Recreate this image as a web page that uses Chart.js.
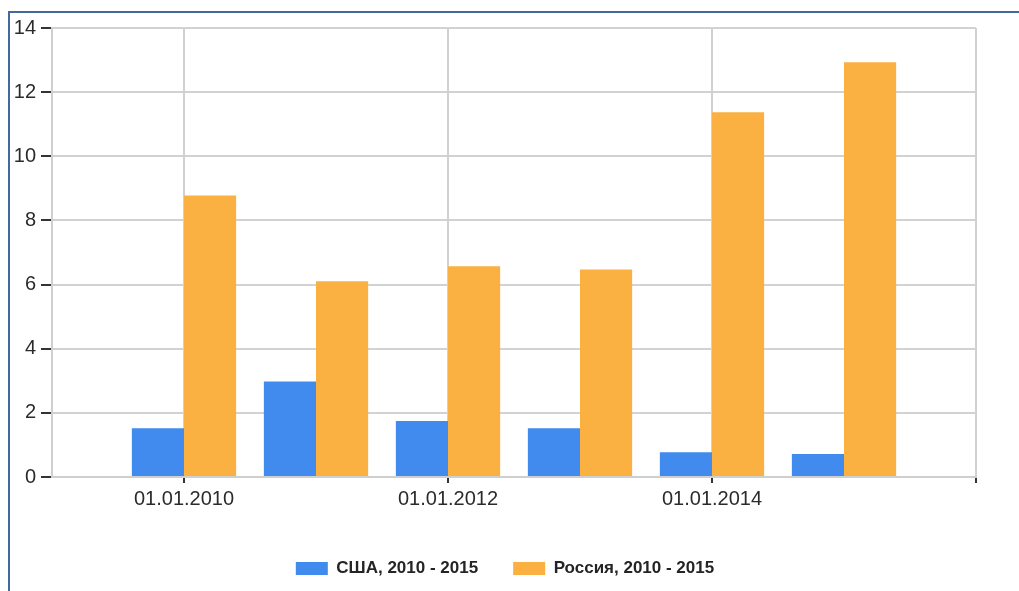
<!DOCTYPE html>
<html>
<head>
<meta charset="utf-8">
<script src="https://cdn.jsdelivr.net/npm/chart.js@4.4.1/dist/chart.umd.min.js"></script>
<style>
  html, body { margin: 0; padding: 0; background: #fff; }
  #wrap { position: relative; width: 1019px; height: 591px; overflow: hidden; }
  #frame {
    position: absolute; left: 8px; top: 11px; width: 1030px; height: 600px;
    border-left: 2px solid #45699f; border-top: 2px solid #45699f;
    pointer-events: none;
  }
  canvas { position: absolute; left: 0; top: 0; }
</style>
</head>
<body>
<div id="wrap">
  <canvas id="chart" width="1019" height="591"></canvas>
  <div id="frame"></div>
</div>
<script>
// Years on the horizontal axis and the two series
const years = [2010, 2011, 2012, 2013, 2014, 2015];
const usaValues = [1.52, 2.98, 1.75, 1.52, 0.77, 0.72];
const russiaValues = [8.78, 6.10, 6.57, 6.47, 11.37, 12.93];

// Labelled dates on the horizontal axis
const xTickYears = [2010, 2012, 2014];
const xTickLabels = ['01.01.2010', '01.01.2012', '01.01.2014'];
// Value axis ticks
const yTicks = [0, 2, 4, 6, 8, 10, 12, 14];

const seriesNames = ['США, 2010 - 2015', 'Россия, 2010 - 2015'];

const toPoints = vals => years.map((yr, i) => ({ x: yr, y: vals[i] }));

const axisFont = { family: '"Liberation Sans", Arial, sans-serif', size: 20 };

// Nudges the legend a little to the left of the canvas centre
const legendShift = {
  id: 'legendShift',
  afterLayout(chart) {
    const lg = chart.legend;
    if (lg) { lg.left += 17; lg.right += 17; }
  }
};

const ctx = document.getElementById('chart').getContext('2d');
new Chart(ctx, {
  type: 'bar',
  data: {
    datasets: [
      {
        label: seriesNames[0],
        data: toPoints(usaValues),
        backgroundColor: '#418bee',
        borderWidth: 0,
        categoryPercentage: 0.79,
        barPercentage: 1.0
      },
      {
        label: seriesNames[1],
        data: toPoints(russiaValues),
        backgroundColor: '#fab142',
        borderWidth: 0,
        categoryPercentage: 0.79,
        barPercentage: 1.0
      }
    ]
  },
  plugins: [legendShift],
  options: {
    responsive: false,
    animation: false,
    layout: { padding: { left: 0, right: 43, top: 28, bottom: 4 } },
    plugins: {
      tooltip: { enabled: false },
      legend: {
        position: 'bottom',
        labels: {
          boxWidth: 32,
          boxHeight: 13,
          padding: 35,
          color: '#242424',
          font: { family: '"Liberation Sans", Arial, sans-serif', size: 17, weight: 'bold' }
        }
      }
    },
    scales: {
      x: {
        type: 'linear',
        offset: false,
        min: years[0] - 1,
        max: years[years.length - 1] + 1,
        afterBuildTicks: scale => {
          scale.ticks = xTickYears.concat([years[years.length - 1] + 1]).map(v => ({ value: v }));
        },
        afterFit: scale => { scale.height = 48; },
        ticks: {
          autoSkip: false,
          maxRotation: 0,
          padding: 4,
          color: '#2b2b2b',
          font: axisFont,
          callback: value => {
            const k = xTickYears.indexOf(value);
            return k >= 0 ? xTickLabels[k] : '';
          }
        },
        grid: {
          offset: false,
          color: '#d2d2d2',
          lineWidth: 2,
          tickColor: '#333',
          tickLength: 6
        },
        border: { color: '#cfcfcf', width: 2 }
      },
      y: {
        min: 0,
        max: 14,
        afterBuildTicks: scale => { scale.ticks = yTicks.map(v => ({ value: v })); },
        afterFit: scale => { scale.width = 52; },
        ticks: {
          padding: 5,
          color: '#2b2b2b',
          font: axisFont
        },
        grid: {
          color: '#d2d2d2',
          lineWidth: 2,
          tickColor: '#333',
          tickLength: 11
        },
        border: { color: '#cfcfcf', width: 2 }
      }
    }
  }
});
</script>
</body>
</html>
